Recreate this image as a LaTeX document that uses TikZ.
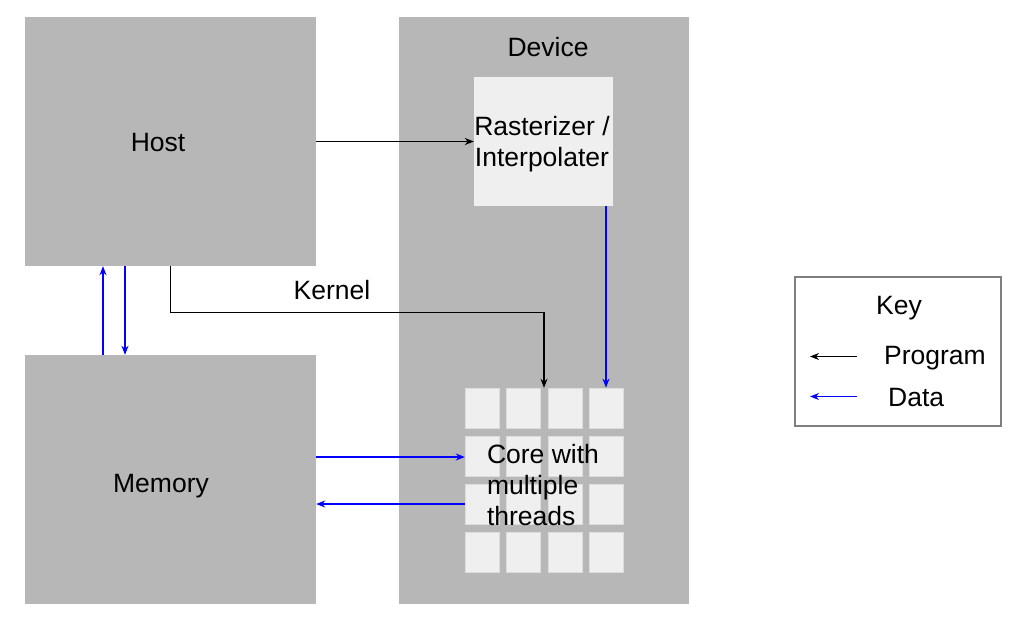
\documentclass[tikz,border=0pt]{standalone}
\usepackage{fontspec}
\setmainfont{Liberation Sans}
\usetikzlibrary{arrows.meta}
\definecolor{boxgray}{HTML}{B7B7B7}
\definecolor{cellgray}{HTML}{EFEFEF}
\definecolor{cellline}{HTML}{DDDDDD}
\definecolor{keyline}{HTML}{7F7F7F}
\definecolor{datablue}{HTML}{0000FF}
\tikzset{
  big/.style={fill=boxgray, draw=none, inner sep=0pt},
  cellbox/.style={fill=cellgray, draw=cellline, line width=0.8pt, minimum width=34pt, minimum height=40pt, inner sep=0pt},
  lbl/.style={font=\fontsize{26.5}{31}\selectfont, inner sep=0pt, text=black},
  prog/.style={draw=black, line width=1.3pt, -{Stealth[length=9pt,width=7pt]}},
  data/.style={draw=datablue, line width=1.3pt, -{Stealth[length=9pt,width=7pt]}},
}
\begin{document}
\begin{tikzpicture}[x=1pt,y=-1pt]
\useasboundingbox[fill=white] (0,0) rectangle (1021,622);
% big boxes
\node[big, minimum width=291pt, minimum height=249pt] (host) at (170.5,141.5) {};
\node[big, minimum width=291pt, minimum height=249pt] (memory) at (170.5,479.5) {};
\node[big, minimum width=290pt, minimum height=587pt] (device) at (544,310.5) {};
\node[lbl] (hostlbl) at (158,143) {Host};
\node[lbl] (memlbl) at (161,486) {Memory};
\node[lbl] (devlbl) at (548,47) {Device};
% rasterizer
\node[fill=cellgray, minimum width=139pt, minimum height=129pt, inner sep=0pt] (raster) at (543.5,141.5) {};
\node[lbl, align=center] (rastlbl) at (542,144) {Rasterizer /\\Interpolater};
% cores grid
\node[minimum width=158pt, minimum height=184pt, inner sep=0pt] (cores) at (544,480) {};
\foreach \c/\x in {1/482,2/523,3/565,4/606}{
  \foreach \r/\y in {1/408,2/456,3/504,4/552}{
    \node[cellbox] (c\r\c) at (\x,\y) {};
  }
}
\node[lbl, align=left] (corelbl) at (543,485) {Core with\\multiple\\threads};
% connectors
\draw[prog] (host.east) -- (raster.west);
\draw[data] (raster.south -| c14.north) -- (c14.north);
\draw[prog, line width=1.1pt] (host.south) -- ++(0,46) -| (cores.north);
\node[lbl] (kernel) at (332,290) {Kernel};
\draw[data] ([xshift=-67.5pt]memory.north) -- ([xshift=-67.5pt]host.south);
\draw[data] ([xshift=-45.5pt]host.south) -- ([xshift=-45.5pt]memory.north);
\draw[data] ([yshift=22.5pt]memory.east) -- ([yshift=22.5pt]memory.east -| cores.west);
\draw[data] ([yshift=-24.5pt]memory.east -| cores.west) -- ([yshift=-24.5pt]memory.east);
% key
\node[draw=keyline, line width=1.2pt, minimum width=206pt, minimum height=149pt, inner sep=0pt] (key) at (898,351.5) {};
\node[lbl] (keylbl) at (899,308) {Key};
\coordinate (p1) at (857,356.5);
\coordinate (p2) at (810,356.5);
\coordinate (d1) at (857,396.5);
\coordinate (d2) at (810,396.5);
\draw[prog, line width=1.1pt] (p1) -- (p2);
\draw[data, line width=1.1pt] (d1) -- (d2);
\node[lbl, anchor=west] (proglbl) at (884,358) {Program};
\node[lbl, anchor=west] (datalbl) at (888,398) {Data};
\end{tikzpicture}
\end{document}
